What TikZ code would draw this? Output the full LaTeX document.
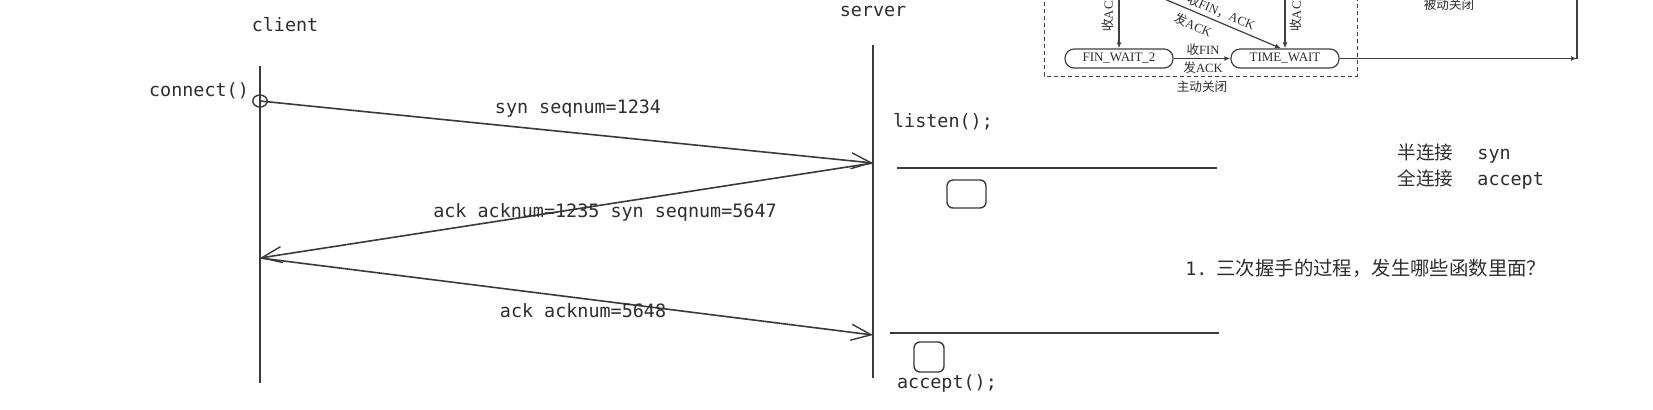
\documentclass[tikz,border=0pt]{standalone}
\usepackage{fontspec}
\setmonofont{DejaVu Sans Mono}
\newfontfamily\cjk{Noto Sans CJK SC}
\newfontfamily\tnr{Liberation Serif}
\usetikzlibrary{arrows.meta}
\definecolor{ink}{HTML}{2E2E2E}
\definecolor{ln}{HTML}{3A3A3A}
\definecolor{sg}{HTML}{404040}
\tikzset{
  mono/.style={font=\ttfamily\fontsize{9.2}{11}\selectfont, inner sep=0pt, text=ink, anchor=base},
  cjkt/.style={font=\cjk\fontsize{9.3}{11}\selectfont, inner sep=0pt, text=ink, anchor=base},
  life/.style={line width=1pt, draw=ln},
  msg/.style={line width=0.8pt, draw=ln, -{Straight Barb[length=10pt,width=8pt,line width=0.7pt]}},
  hline/.style={line width=0.8pt, draw=ln},
  slot/.style={draw=ln, line width=0.7pt, rounded corners=3pt, inner sep=0pt},
  state/.style={draw=sg, line width=0.6pt, rounded corners=4.5pt, minimum width=54pt, minimum height=9.5pt, inner sep=0pt, text=ink, font=\tnr\fontsize{6.5}{7}\selectfont},
  scjk/.style={inner sep=0pt, text=ink, font=\cjk\fontsize{6.3}{7}\selectfont},
  sarrow/.style={draw=sg, line width=0.6pt, -{Latex[length=3pt,width=2.4pt]}},
  dashbox/.style={draw=sg, line width=0.5pt, dash pattern=on 2pt off 1.5pt}
}
\begin{document}
\begin{tikzpicture}[x=0.5pt,y=-0.5pt]
\useasboundingbox (0,0) rectangle (1653,409);
\clip (0,0) rectangle (1653,409);
\fill[white] (0,0) rectangle (1653,409);

% ---------- lifelines ----------
\coordinate (ctop) at (260,66);
\coordinate (cbot) at (260,383);
\coordinate (stop) at (873,45);
\coordinate (sbot) at (873,378);
\draw[life] (ctop) -- (cbot);
\draw[life] (stop) -- (sbot);

\node[mono] (client) at (285,31) {client};
\node[mono] (server) at (873,16) {server};
\node[mono] (connect) at (199,96) {connect()};

% ---------- messages ----------
\coordinate (cA) at (260,101);
\coordinate (sA) at (873,163);
\coordinate (cB) at (260,258);
\coordinate (sB) at (873,335);
\draw[ln, line width=0.7pt] (cA) ellipse [x radius=3.6pt, y radius=3pt];
\draw[msg] (cA) -- (sA);
\draw[msg] (sA) -- (cB);
\draw[msg] (cB) -- (sB);

\node[mono] (m1) at (578,113) {syn seqnum=1234};
\node[mono] (m2) at (605,217) {ack acknum=1235 syn seqnum=5647};
\node[mono] (m3) at (583,317) {ack acknum=5648};

% ---------- server side ----------
\node[mono] (listen) at (943,127) {listen();};
\coordinate (l1a) at (897,168);
\coordinate (l1b) at (1217,168);
\draw[hline] (l1a) -- (l1b);
\node[slot, minimum width=19.5pt, minimum height=14pt] (q1) at (966.5,194) {};
\coordinate (l2a) at (890,333);
\coordinate (l2b) at (1219,333);
\draw[hline] (l2a) -- (l2b);
\node[slot, minimum width=15pt, minimum height=15pt] (q2) at (929,357) {};
\node[mono] (accept) at (947,388) {accept();};

% ---------- notes ----------
\node[cjkt, anchor=base west] (half) at (1397,159) {半连接};
\node[mono, anchor=base west] (halfv) at (1477,159) {syn};
\node[cjkt, anchor=base west] (full) at (1397,185) {全连接};
\node[mono, anchor=base west] (fullv) at (1477,185) {accept};
\node[cjkt, anchor=base west, font=\cjk\fontsize{9.7}{11}\selectfont] (quest) at (1185,275) {{\ttfamily\fontsize{9.2}{11}\selectfont 1.}\hspace{4.5pt}三次握手的过程，发生哪些函数里面？};

% ---------- state diagram fragment ----------
\draw[dashbox] (1044,-5) -- (1044,76) -- (1357,76) -- (1357,-5);
\node[state] (fw2) at (1119,58.5) {FIN\_WAIT\_2};
\node[state] (tw) at (1285,58.5) {TIME\_WAIT};
\coordinate (fwin) at (1119,-5);
\coordinate (twin) at (1285,-5);
\coordinate (dgin) at (1155,-5);
\coordinate (rtop) at (1577,-5);
\coordinate (rcorner) at (1577,58.5);
\draw[sarrow] (fwin) -- (fw2.north);
\draw[sarrow] (twin) -- (tw.north);
\draw[sarrow] (dgin) -- ([xshift=-2pt]tw.north);
\draw[sarrow] (fw2.east) -- (tw.west);
\draw[draw=sg, line width=0.6pt] (rtop) -- (rcorner);
\draw[sarrow] (tw.east) -- (rcorner);

\node[scjk, rotate=90] (lab1) at (1108,12) {收{\tnr ACK}};
\node[scjk, rotate=90] (lab2) at (1296,12) {收{\tnr ACK}};
\node[scjk, rotate=-23] (lab3) at (1221,12) {收{\tnr FIN}，{\tnr ACK}};
\node[scjk, rotate=-23] (lab4) at (1193,25) {发{\tnr ACK}};
\node[scjk] (lab5) at (1203,50) {收{\tnr FIN}};
\node[scjk] (lab6) at (1203,68) {发{\tnr ACK}};
\node[scjk] (active) at (1202,87) {主动关闭};
\node[scjk] (passive) at (1449,5) {被动关闭};
\end{tikzpicture}
\end{document}
